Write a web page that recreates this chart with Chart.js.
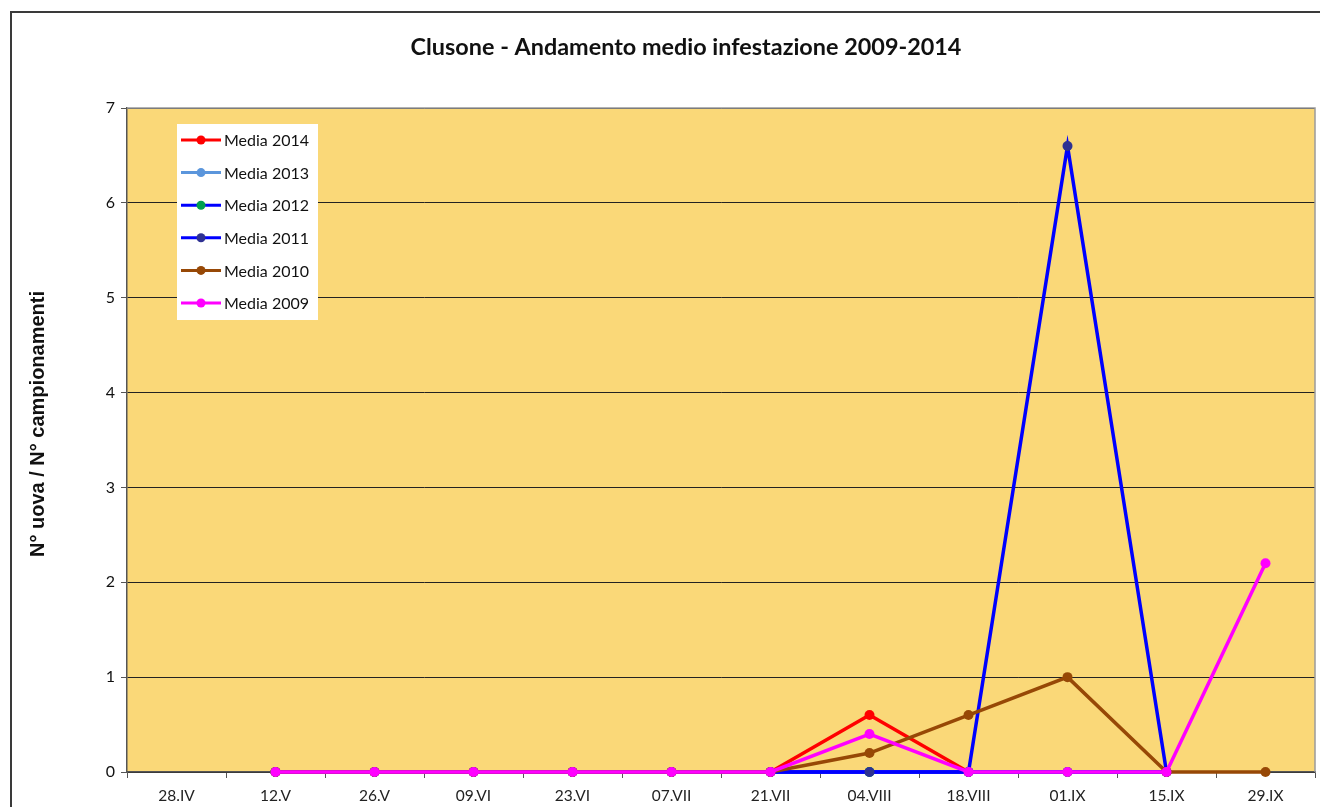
<!DOCTYPE html>
<html>
<head>
<meta charset="utf-8">
<script src="https://cdn.jsdelivr.net/npm/chart.js@4.4.1/dist/chart.umd.min.js"></script>
<style>
  html, body { margin: 0; background: #fff; overflow: hidden; }
  #wrap { position: relative; width: 1320px; height: 807px; }
  #frame { position: absolute; left: 10px; top: 11px; width: 1360px; height: 840px; border: 2px solid #3a3a3a; box-sizing: border-box; }
  canvas { position: absolute; left: 0; top: 0; }
</style>
</head>
<body>
<div id="wrap">
  <div id="frame"></div>
  <canvas id="myChart" width="1320" height="807"></canvas>
</div>
<script>
var dates = ['28.IV', '12.V', '26.V', '09.VI', '23.VI', '07.VII', '21.VII', '04.VIII', '18.VIII', '01.IX', '15.IX', '29.IX'];

var media2014 = [null, 0, 0, 0, 0, 0, 0, 0.6, 0, 0, 0, null];
var media2013 = [null, 0, 0, 0, 0, 0, 0, 0, 0, 0, 0, null];
var media2012 = [null, 0, 0, 0, 0, 0, 0, 0, 0, 0, 0, null];
var media2011 = [null, 0, 0, 0, 0, 0, 0, 0, 0, 6.6, 0, null];
var media2010 = [null, 0, 0, 0, 0, 0, 0, 0.2, 0.6, 1.0, 0, 0];
var media2009 = [null, 0, 0, 0, 0, 0, 0, 0.4, 0, 0, 0, 2.2];

var yTicks = [0, 1, 2, 3, 4, 5, 6, 7];
var chartTitle = 'Clusone - Andamento medio infestazione 2009-2014';
var yTitle = 'N° uova / N° campionamenti';

function serie(label, data, line, marker, order) {
    return {
        label: label,
        data: data,
        borderColor: line,
        backgroundColor: marker,
        pointBackgroundColor: marker,
        pointBorderColor: marker,
        borderWidth: 3.5,
        pointRadius: 5,
        pointBorderWidth: 0,
        tension: 0,
        clip: 10,
        order: order
    };
}

// plot background, titles, grey top/right border
var plotBg = {
    id: 'plotBg',
    beforeDraw: function (chart) {
        var a = chart.chartArea, ctx = chart.ctx;
        ctx.save();
        ctx.fillStyle = '#FAD878';
        ctx.fillRect(a.left, a.top, a.right - a.left, a.bottom - a.top);

        ctx.fillStyle = '#111';
        ctx.textAlign = 'center';
        ctx.textBaseline = 'middle';
        ctx.font = 'bold 23.4px Lato';
        ctx.fillText(chartTitle, 686, 47);

        ctx.translate(38, 424);
        ctx.rotate(-Math.PI / 2);
        ctx.font = 'bold 20px "Liberation Sans"';
        ctx.fillText(yTitle, 0, 0);
        ctx.restore();
    },
    afterDatasetsDraw: function (chart) {
        var a = chart.chartArea, ctx = chart.ctx;
        ctx.save();
        ctx.strokeStyle = '#9a9a9a';
        ctx.lineWidth = 1.5;
        ctx.beginPath();
        ctx.moveTo(a.left, a.top);
        ctx.lineTo(a.right, a.top);
        ctx.lineTo(a.right, a.bottom);
        ctx.stroke();
        ctx.restore();
    }
};

// legend in a white box inside the plot
var boxLegend = {
    id: 'boxLegend',
    afterDraw: function (chart) {
        var a = chart.chartArea, ctx = chart.ctx;
        var x0 = a.left + 50, y0 = a.top + 16;
        ctx.save();
        ctx.fillStyle = '#fff';
        ctx.fillRect(x0, y0, 141, 196);
        ctx.font = '16px Lato';
        ctx.textBaseline = 'middle';
        chart.data.datasets.forEach(function (ds, i) {
            var y = y0 + 16 + i * 32.6;
            ctx.strokeStyle = ds.borderColor;
            ctx.lineWidth = 3;
            ctx.beginPath();
            ctx.moveTo(x0 + 4, y);
            ctx.lineTo(x0 + 44, y);
            ctx.stroke();
            ctx.fillStyle = ds.pointBackgroundColor;
            ctx.beginPath();
            ctx.arc(x0 + 24, y, 4.5, 0, Math.PI * 2);
            ctx.fill();
            ctx.fillStyle = '#111';
            ctx.fillText(ds.label, x0 + 47, y + 1);
        });
        ctx.restore();
    }
};

var ctx = document.getElementById('myChart').getContext('2d');
var myChart = new Chart(ctx, {
    type: 'line',
    data: {
        labels: dates,
        datasets: [
            serie('Media 2014', media2014, '#FF0000', '#FF0000', 5),
            serie('Media 2013', media2013, '#5B96DC', '#5B96DC', 4),
            serie('Media 2012', media2012, '#0000FF', '#00A050', 3),
            serie('Media 2011', media2011, '#0000FF', '#2E3192', 2),
            serie('Media 2010', media2010, '#974806', '#974806', 1),
            serie('Media 2009', media2009, '#FF00FF', '#FF00FF', 0)
        ]
    },
    options: {
        responsive: false,
        animation: false,
        layout: { padding: { left: 0, right: 1, top: 108, bottom: 0 } },
        plugins: {
            legend: { display: false },
            tooltip: { enabled: false },
            title: { display: false }
        },
        scales: {
            x: {
                offset: true,
                grid: {
                    offset: true,
                    drawOnChartArea: false,
                    drawTicks: true,
                    tickLength: 6,
                    color: '#555'
                },
                border: { color: '#555', width: 1.5 },
                ticks: {
                    color: '#222',
                    padding: 9,
                    maxRotation: 0,
                    autoSkip: false,
                    font: { family: 'Lato', size: 15.5 }
                },
                afterFit: function (s) { s.height = 35; }
            },
            y: {
                min: 0,
                max: 7,
                afterBuildTicks: function (s) { s.ticks = yTicks.map(function (v) { return { value: v }; }); },
                grid: {
                    color: '#222',
                    lineWidth: 1,
                    tickLength: 6,
                    tickColor: '#555'
                },
                border: { color: '#555', width: 1.5 },
                ticks: {
                    color: '#111',
                    padding: 6,
                    font: { family: 'Lato', size: 16 }
                },
                afterFit: function (s) { s.width = 127; }
            }
        }
    },
    plugins: [plotBg, boxLegend]
});
</script>
</body>
</html>
